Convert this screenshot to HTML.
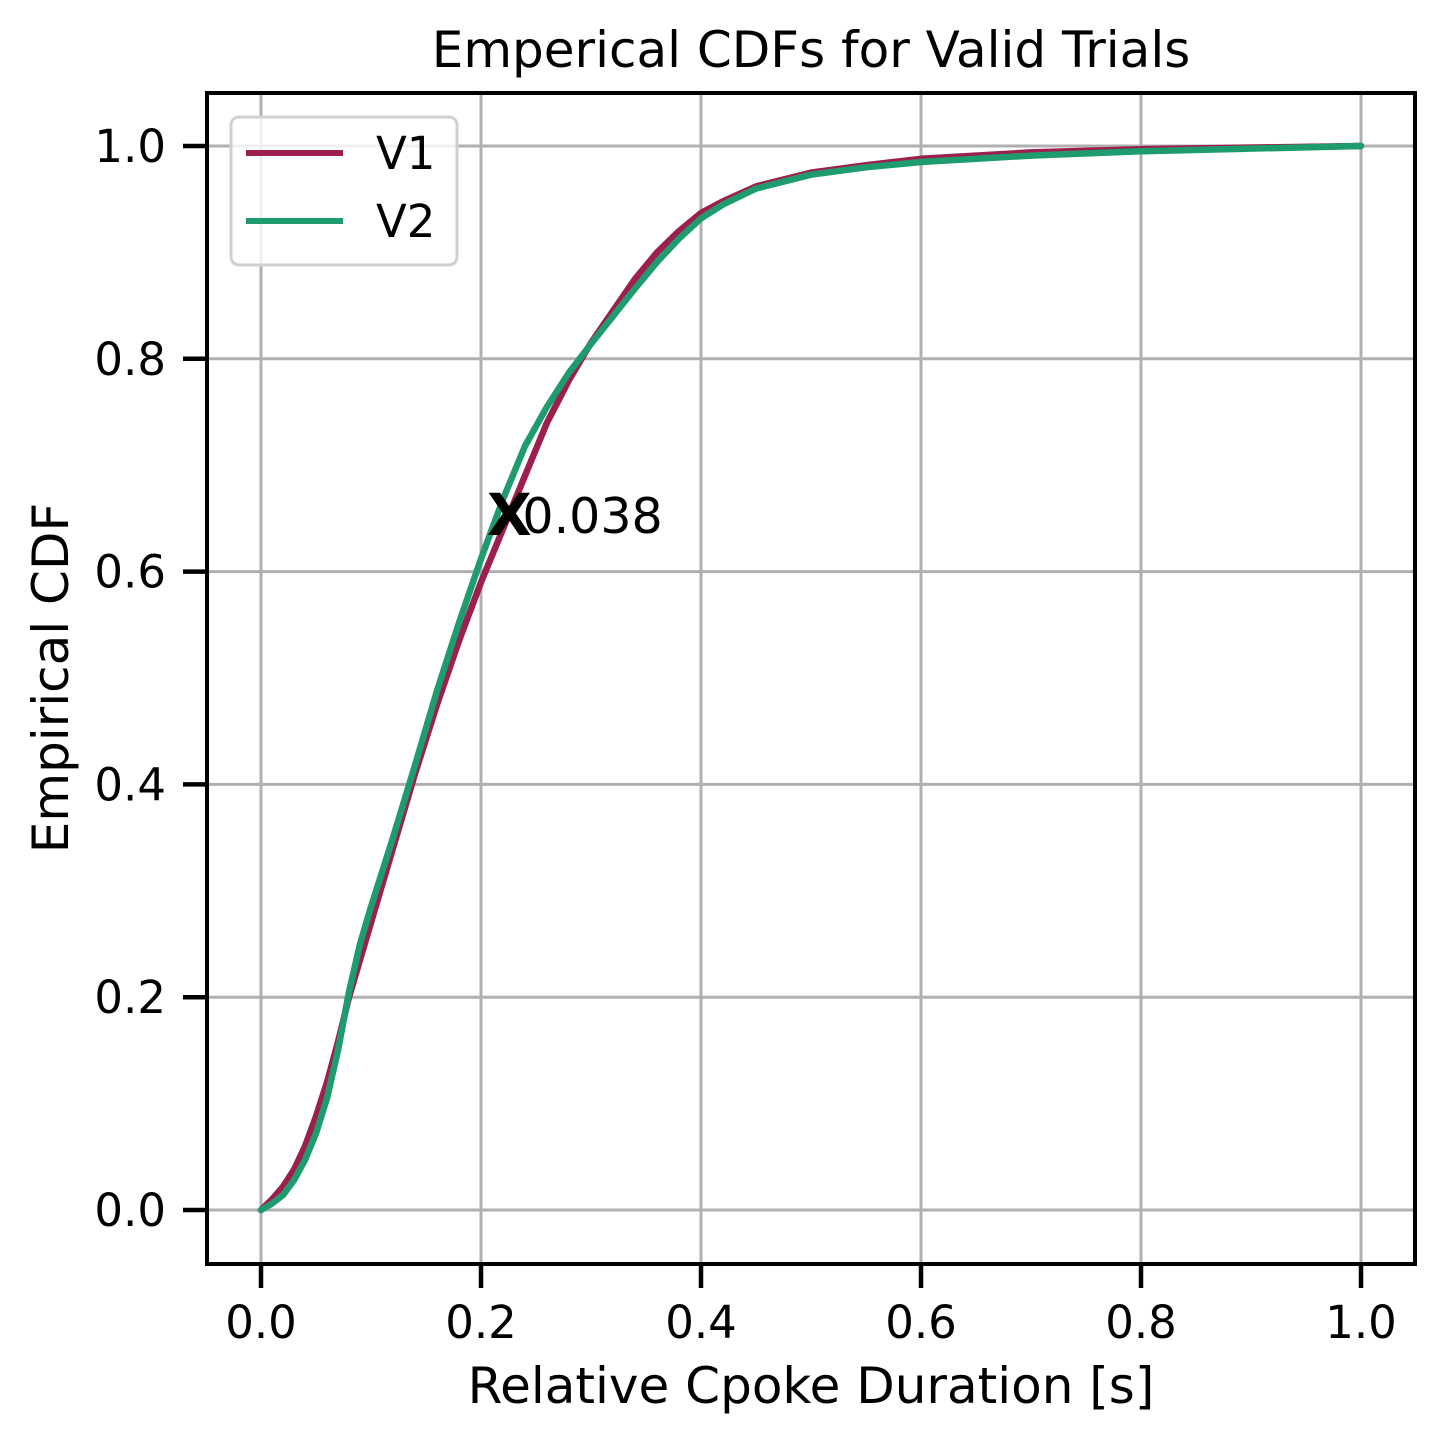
<!DOCTYPE html>
<html><head><meta charset="utf-8"><style>
html,body{margin:0;padding:0;background:#fff;}
svg text{font-family:"DejaVu Sans","Liberation Sans",sans-serif;fill:#000;}
</style></head><body>
<svg id="chart" width="1446" height="1442" xmlns="http://www.w3.org/2000/svg">
<rect width="1446" height="1442" fill="#fff"/>
<g id="grid"></g>
<g id="series"></g>
<rect x="207" y="93" width="1208" height="1171" fill="none" stroke="#000" stroke-width="4"/>
<g id="ticks"></g>
<text x="811" y="67" font-size="50" text-anchor="middle">Emperical CDFs for Valid Trials</text>
<text x="811" y="1403" font-size="50" text-anchor="middle">Relative Cpoke Duration [s]</text>
<text transform="translate(68,678) rotate(-90)" font-size="50" text-anchor="middle">Empirical CDF</text>
<g id="annot"></g>
<g>
<rect x="231" y="117" width="226" height="148" rx="8" fill="#fff" fill-opacity="0.8" stroke="#d0d0d0" stroke-width="3"/>
<line x1="246" y1="153" x2="343" y2="153" stroke="#9c1f4f" stroke-width="6"/>
<text x="376" y="169" font-size="45">V1</text>
<line x1="246" y1="221" x2="343" y2="221" stroke="#1e9c6d" stroke-width="6"/>
<text x="376" y="237" font-size="45">V2</text>
</g>
</svg>
<script>
const xTicks=[0,0.2,0.4,0.6,0.8,1.0];
const yTicks=[0,0.2,0.4,0.6,0.8,1.0];
const xs1=[0,0.01,0.02,0.03,0.04,0.05,0.06,0.07,0.08,0.1,0.12,0.14,0.16,0.18,0.2,0.22,0.24,0.26,0.28,0.3,0.32,0.34,0.36,0.38,0.4,0.42,0.45,0.5,0.55,0.6,0.7,0.8,1.0];
const v1=[0,0.01,0.022,0.038,0.06,0.088,0.12,0.158,0.2,0.27,0.34,0.41,0.475,0.535,0.59,0.64,0.69,0.74,0.78,0.815,0.845,0.875,0.9,0.92,0.937,0.948,0.962,0.975,0.982,0.988,0.994,0.997,1.0];
const xs2=[0,0.01,0.02,0.03,0.04,0.05,0.06,0.07,0.08,0.09,0.1,0.12,0.14,0.16,0.18,0.2,0.22,0.24,0.26,0.28,0.3,0.32,0.34,0.36,0.38,0.4,0.42,0.45,0.5,0.55,0.6,0.7,0.8,1.0];
const v2=[0,0.006,0.014,0.028,0.047,0.072,0.105,0.15,0.205,0.25,0.285,0.35,0.418,0.488,0.552,0.612,0.668,0.718,0.755,0.787,0.814,0.84,0.866,0.891,0.913,0.932,0.945,0.96,0.973,0.98,0.985,0.991,0.995,1.0];
const markX=[0.224], markY=[0.655], markLabel=["0.038"];
const NS="http://www.w3.org/2000/svg";
const sx=v=>261+v*1100, sy=v=>1210-v*1064;
function mk(tag,attrs,parent){const e=document.createElementNS(NS,tag);for(const k in attrs)e.setAttribute(k,attrs[k]);document.getElementById(parent).appendChild(e);return e;}
xTicks.forEach(t=>{
 const g=mk('line',{x1:sx(t),x2:sx(t),y1:93,y2:1264,stroke:'#b0b0b0','stroke-width':3},'grid');
 
 
 const tk=mk('line',{x1:sx(t),x2:sx(t),y1:1264,y2:1288,stroke:'#000','stroke-width':4.5},'ticks');
 
 
 const tx=mk('text',{x:sx(t),y:1338,'font-size':45,'text-anchor':'middle'},'ticks');
 tx.textContent=t.toFixed(1);
 
 
});
yTicks.forEach(t=>{
 const g=mk('line',{x1:207,x2:1415,y1:sy(t),y2:sy(t),stroke:'#b0b0b0','stroke-width':3},'grid');
 
 
 const tk=mk('line',{x1:183,x2:207,y1:sy(t),y2:sy(t),stroke:'#000','stroke-width':4.5},'ticks');
 
 
 const tx=mk('text',{x:166,y:sy(t)+16,'font-size':45,'text-anchor':'end'},'ticks');
 tx.textContent=t.toFixed(1);
 
 
});
function line(xs,ys,color,name){
 const d=xs.map((x,i)=>(i?'L':'M')+sx(x).toFixed(1)+','+sy(ys[i]).toFixed(1)).join(' ');
 const p=mk('path',{d:d,fill:'none',stroke:color,'stroke-width':6.5,'stroke-linejoin':'round','stroke-linecap':'round'},'series');
 
 
}
line(xs1,v1,'#9c1f4f','v1-cdf-line');
line(xs2,v2,'#1e9c6d','v2-cdf-line');
markX.forEach((x,i)=>{
 const m=mk('text',{x:sx(x)+2,y:sy(markY[i])+22,'font-size':58,'font-weight':'bold','text-anchor':'middle'},'annot');
 m.textContent='X';
 
 
 const l=mk('text',{x:sx(x)+15,y:sy(markY[i])+20,'font-size':49},'annot');
 l.textContent=markLabel[i];
 
 
});
</script>
</body></html>
